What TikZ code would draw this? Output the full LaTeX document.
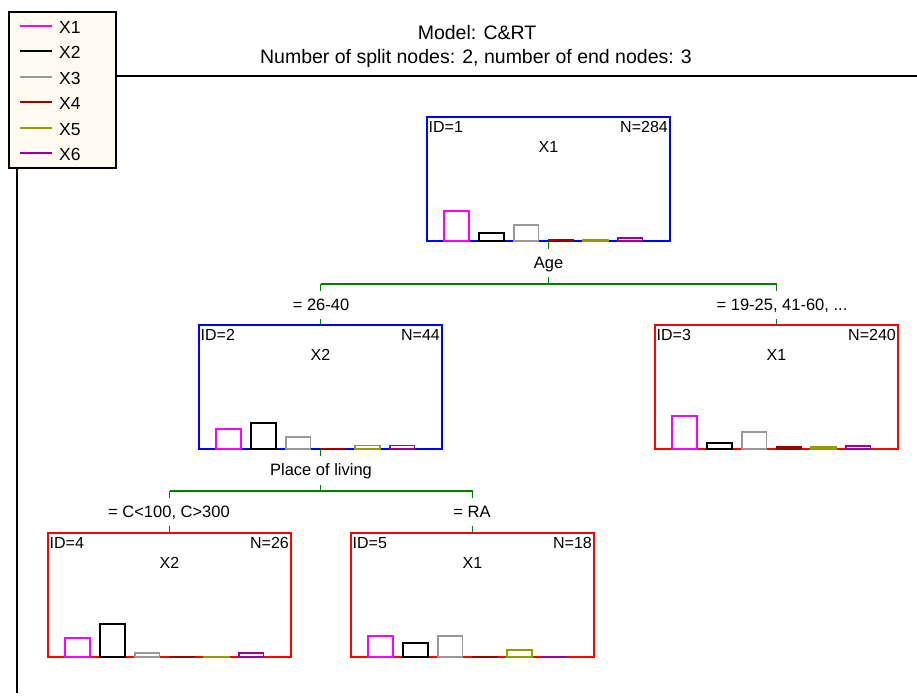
\documentclass[tikz,border=0pt]{standalone}
\usepackage{fontspec}
\setmainfont{Liberation Sans}
\usetikzlibrary{calc}
\definecolor{cX1}{HTML}{FF00FF}
\definecolor{cX2}{HTML}{000000}
\definecolor{cX3}{HTML}{999999}
\definecolor{cX4}{HTML}{990000}
\definecolor{cX5}{HTML}{999900}
\definecolor{cX6}{HTML}{990099}
\definecolor{splitgreen}{HTML}{008000}
\definecolor{legfill}{HTML}{FFFBF0}
\tikzset{
 tbox/.style={draw=#1, line width=1.8pt, minimum width=243pt, minimum height=124pt,
   inner sep=0pt, outer sep=0pt, anchor=north west, fill=white},
 ntext/.style={font=\fontsize{16}{19}\selectfont, inner sep=0pt},
 ltext/.style={font=\fontsize{16.5}{19}\selectfont, inner sep=0pt},
 ttext/.style={font=\fontsize{19.5}{22}\selectfont, inner sep=0pt},
 legtext/.style={font=\fontsize{17.5}{20}\selectfont, inner sep=0pt},
 link/.style={draw=splitgreen, line width=1.8pt},
 barline/.style={line width=1.7pt},
}
\newcommand\treebox[7]{%
 \node[tbox=#4] (#1) at (#2,#3) {};
 \node[ntext, anchor=base west] (#1id) at ($(#1.north west)+(1.5,15.7)$) {ID=#5};
 \node[ntext, anchor=base east] (#1n) at ($(#1.north east)+(-2,15.7)$) {N=#6};
 \node[ntext, anchor=base] (#1cl) at ($(#1.north)+(0,35.7)$) {#7};
}
\newcommand\treebars[2]{%
 \foreach \h [count=\i] in {#2}{%
  \pgfmathsetmacro\bx{17.3+(\i-1)*34.7}
  \draw[barline, draw=cX\i] ($(#1.south west)+(\bx,0)$) rectangle ++(24.7,-\h);
 }%
}
\begin{document}
\begin{tikzpicture}[x=1pt,y=-1pt]
\fill[white] (0,0) rectangle (917,696);
\useasboundingbox (0,0) rectangle (917,696);

% title
\node[ttext, anchor=base] (title1) at (477,39.3) {Model: C\&RT};
\node[ttext, anchor=base] (title2) at (476,63.3) {Number of split nodes: 2, number of end nodes: 3};

% legend
\node[draw, line width=2.2pt, fill=legfill, minimum width=107pt, minimum height=156pt,
      anchor=north west, inner sep=0pt, outer sep=0pt] (legend) at (9,12) {};
\foreach \i/\ly in {1/26,2/51,3/77,4/102,5/128,6/153}{
  \draw[line width=1.8pt, draw=cX\i] (19.5,\ly) -- (52,\ly);
  \node[legtext, anchor=base west] (leg\i) at (59,\ly+7.3) {X\i};
}
\coordinate (hl) at (917,76);
\draw[line width=2pt] (legend.east |- hl) -- (hl);
\coordinate (vl) at (17,693);
\draw[line width=2pt] (legend.south -| vl) -- (vl);

% tree nodes
\treebox{n1}{427}{117}{blue}{1}{284}{X1}
\treebox{n2}{199}{325}{blue}{2}{44}{X2}
\treebox{n3}{655}{325}{red}{3}{240}{X1}
\treebox{n4}{48}{533}{red}{4}{26}{X2}
\treebox{n5}{351}{533}{red}{5}{18}{X1}
\treebars{n1}{30,8.3,16,1.5,1.5,3}
\treebars{n2}{20,26,12,0.5,3.5,3.5}
\treebars{n3}{32.7,5.7,17,2.3,1.7,3}
\treebars{n4}{18.7,33,4.3,0.5,0.5,4.3}
\treebars{n5}{20.7,13.7,20.7,0.5,7,0.5}

% split 1
\node[ltext, anchor=base] (age) at (548.5,268) {Age};
\coordinate (s1) at (548.5,284);
\draw[link] (n1.south) -- ++(0,7.5);
\draw[link] (s1) -- ++(0,-7);
\draw[link] (n2.north |- s1) -- (n3.north |- s1);
\draw[link] (n2.north |- s1) -- ++(0,6.5);
\draw[link] (n3.north |- s1) -- ++(0,6.5);
\draw[link] (n2.north) -- ++(0,-6);
\draw[link] (n3.north) -- ++(0,-6);
\node[ltext, anchor=base] (l2) at (321,310) {= 26-40};
\node[ltext, anchor=base] (l3) at (782,310) {= 19-25, 41-60, ...};

% split 2
\node[ltext, anchor=base] (place) at (321,475.7) {Place of living};
\coordinate (s2) at (320.5,491);
\draw[link] (n2.south) -- ++(0,6.5);
\draw[link] (s2) -- ++(0,-6.5);
\draw[link] (n4.north |- s2) -- (n5.north |- s2);
\draw[link] (n4.north |- s2) -- ++(0,7);
\draw[link] (n5.north |- s2) -- ++(0,7);
\draw[link] (n4.north) -- ++(0,-7);
\draw[link] (n5.north) -- ++(0,-7);
\node[ltext, anchor=base] (l4) at (169,517) {= C<100, C>300};
\node[ltext, anchor=base] (l5) at (472,517) {= RA};
\end{tikzpicture}
\end{document}
